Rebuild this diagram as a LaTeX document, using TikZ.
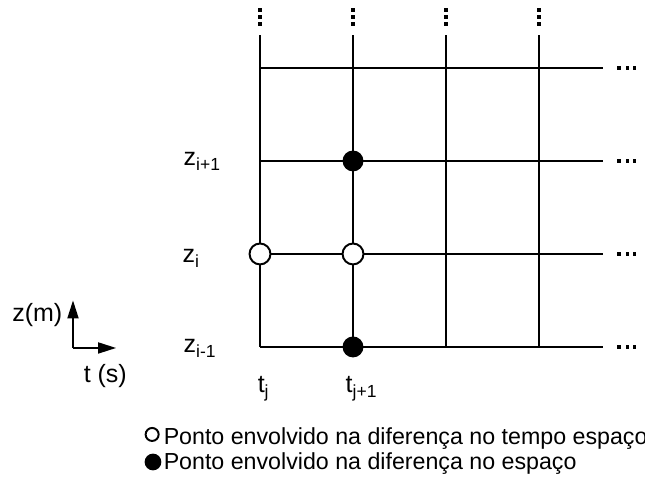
\documentclass[tikz,border=0pt]{standalone}
\usepackage{fontspec}
\setmainfont{Liberation Sans}
\usetikzlibrary{arrows.meta}

\begin{document}
\begin{tikzpicture}[x=2cm,y=2cm,line width=0.9pt,
  opendot/.style={circle,draw,fill=white,line width=1.2pt,minimum size=0.45cm,inner sep=0pt},
  fulldot/.style={circle,fill=black,minimum size=0.45cm,inner sep=0pt},
  lbl/.style={inner sep=0pt,font=\fontsize{15.3}{18}\selectfont},
  leg/.style={inner sep=0pt,font=\fontsize{14.2}{17}\selectfont},
  axis/.style={-{Triangle[length=11pt,width=6.8pt]}}]
\useasboundingbox (-2.796,-1.548) rectangle (4.140,3.731);
% Grid
\foreach \x in {0,1,2,3} {
    \draw (\x,0) -- (\x,3.355);
    \foreach \y in {3.624,3.548,3.473}
        \fill (\x-0.017,\y-0.017) rectangle (\x+0.017,\y+0.017);
}
\foreach \y in {0,1,2,3} {
    \draw (0,\y) -- (3.688,\y);
    \foreach \x in {3.86,3.95,4.03}
        \fill (\x-0.017,\y-0.017) rectangle (\x+0.017,\y+0.017);
}
% Points
\node[opendot] (zitj) at (0,1) {};
\node[opendot] (zitj1) at (1,1) {};
\node[fulldot] (zi1tj1) at (1,2) {};
\node[fulldot] (zim1tj1) at (1,0) {};
% Labels
\node[lbl,anchor=base west] (zip) at (-0.828,1.946) {z\textsubscript{i+1}};
\node[lbl,anchor=base west] (zi) at (-0.84,0.903) {z\textsubscript{i}};
\node[lbl,anchor=base west] (zim) at (-0.828,-0.065) {z\textsubscript{i-1}};
\node[lbl,anchor=base west] (tj) at (-0.032,-0.495) {t\textsubscript{j}};
\node[lbl,anchor=base west] (tjp) at (0.914,-0.495) {t\textsubscript{j+1}};
% Axes
\coordinate (orig) at (-2.011,-0.011);
\coordinate (zend) at (-2.011,0.50);
\coordinate (tend) at (-1.548,-0.011);
\draw[axis] (orig) -- (zend);
\draw[axis] (orig) -- (tend);
\node[lbl,anchor=base east] (zax) at (-2.118,0.269) {z(m)};
\node[lbl,anchor=base west] (tax) at (-1.903,-0.387) {t (s)};
% Legend
\node[opendot,minimum size=0.28cm] (legopen) at (-1.160,-0.941) {};
\node[fulldot,minimum size=0.36cm] (legfull) at (-1.151,-1.237) {};
\node[leg,anchor=base west] (legopentxt) at (-1.043,-1.054) {Ponto envolvido na diferença no tempo espaço};
\node[leg,anchor=base west] (legfulltxt) at (-1.043,-1.323) {Ponto envolvido na diferença no espaço};
\end{tikzpicture}
\end{document}
